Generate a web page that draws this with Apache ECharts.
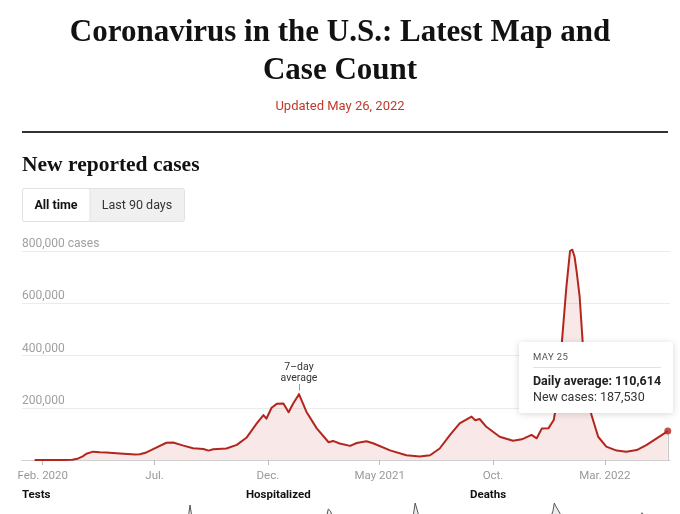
<!DOCTYPE html>
<html><head><meta charset="utf-8">
<script src="https://cdn.jsdelivr.net/npm/echarts@6/dist/echarts.min.js"></script>
<style>html,body{margin:0;padding:0;background:#fff;}#c{width:680px;height:514px;}</style>
</head><body><div id="c"></div>
<script>
// ---------- data ----------
const caseDates = ['2020-01-21','2020-03-01','2020-03-12','2020-03-20','2020-03-26','2020-03-31','2020-04-09','2020-04-18','2020-04-27','2020-05-15','2020-06-05','2020-06-11','2020-06-20','2020-07-04','2020-07-17','2020-07-26','2020-08-09','2020-08-22','2020-09-05','2020-09-12','2020-09-18','2020-10-06','2020-10-20','2020-11-02','2020-11-16','2020-11-25','2020-11-29','2020-12-06','2020-12-13','2020-12-22','2020-12-29','2021-01-04','2021-01-12','2021-01-22','2021-02-05','2021-02-21','2021-02-27','2021-03-08','2021-03-22','2021-03-31','2021-04-13','2021-04-22','2021-05-15','2021-06-06','2021-06-24','2021-07-08','2021-07-21','2021-08-04','2021-08-17','2021-09-02','2021-09-07','2021-09-13','2021-09-22','2021-10-10','2021-10-28','2021-11-09','2021-11-22','2021-11-29','2021-12-06','2021-12-15','2021-12-22','2021-12-24','2021-12-28','2021-12-31','2022-01-02','2022-01-08','2022-01-13','2022-01-16','2022-01-19','2022-01-22','2022-01-26','2022-01-30','2022-02-04','2022-02-07','2022-02-11','2022-02-20','2022-03-03','2022-03-17','2022-03-30','2022-04-13','2022-04-26','2022-05-10','2022-05-25'];
const caseAverages = [0,0,1000,6000,14000,24000,32000,30000,29000,25000,21000,22000,29000,48000,66000,67000,55000,45000,42000,36000,41000,44000,58000,85000,140000,172000,158000,200000,215000,216000,183000,215000,252000,185000,121000,68000,73000,63000,54000,65000,72000,64000,37000,18000,13000,18000,44000,96000,140000,166000,152000,157000,127000,89000,74000,79000,96000,83000,121000,122000,153000,185000,280000,380000,450000,660000,800000,805000,780000,720000,625000,455000,300000,230000,172000,89000,51000,36000,32000,38000,57000,83000,110614];

const xRange = ['2020-01-04','2022-05-28'];
const xTickDates = ['2020-02-01','2020-07-01','2020-12-01','2021-05-01','2021-10-01','2022-03-01'];
const xTickLabels = ['Feb. 2020','Jul.','Dec.','May 2021','Oct.','Mar. 2022'];
const yTickValues = [0,200000,400000,600000,800000];
const yTickLabels = ['','200,000','400,000','600,000','800,000 cases'];

const annotationDate = '2021-01-12';
const annotationText = '7\u2013day\naverage';

const tooltipDate = 'MAY 25';
const tooltipDailyAverage = 110614;
const tooltipNewCases = 187530;

const testsDates = ['2020-03-01','2020-04-15','2020-07-20','2020-09-10','2020-11-20','2021-01-10','2021-03-15','2021-06-20','2021-09-05','2021-12-01','2021-12-28','2022-01-03','2022-01-08','2022-01-13','2022-01-20','2022-02-05','2022-03-20','2022-05-25'];
const testsValues = [0,150000,800000,720000,1650000,1900000,1300000,700000,1800000,1600000,2100000,2500000,2900000,2550000,2200000,1500000,900000,1000000];
const hospDates = ['2020-03-15','2020-04-15','2020-06-15','2020-07-22','2020-09-20','2020-11-15','2020-12-20','2020-12-29','2021-01-08','2021-02-01','2021-03-15','2021-06-25','2021-09-01','2021-10-25','2021-12-15','2022-01-01','2022-01-13','2022-01-25','2022-02-10','2022-03-20','2022-05-25'];
const hospValues = [5000,58000,28000,59000,30000,70000,120000,144000,138000,95000,40000,16000,100000,46000,70000,110000,160000,135000,90000,24000,25000];
const deathsDates = ['2020-03-10','2020-04-18','2020-06-20','2020-08-05','2020-09-25','2020-11-15','2020-12-20','2021-01-01','2021-01-07','2021-01-11','2021-01-15','2021-02-01','2021-02-10','2021-03-15','2021-07-05','2021-09-20','2021-11-01','2021-12-20','2022-01-15','2022-01-25','2022-02-05','2022-03-10','2022-05-25'];
const deathsValues = [0,2200,650,1150,800,1150,2500,2950,3400,3280,3390,2800,2300,1400,230,2000,1200,1300,2000,2850,2500,1300,300];

// ---------- chart ----------
const ms = d => Date.parse(d);
const zip = (ds, vs) => ds.map((d, i) => [ms(d), vs[i]]);
const fmt = n => n.toLocaleString('en-US');
const labelByMs = {};
xTickDates.forEach((d, i) => { labelByMs[ms(d)] = xTickLabels[i]; });

const RED = '#b3261e';
const SANS = 'Roboto, "Liberation Sans", sans-serif';
const SERIF = '"Liberation Serif", "DejaVu Serif", serif';
const lastIdx = caseDates.length - 1;
const lastPoint = [ms(caseDates[lastIdx]), caseAverages[lastIdx]];

const chart = echarts.init(document.getElementById('c'), null, {renderer: 'canvas'});

const miniGrid = (left, top) => ({left: left, top: top, width: 200, height: 60, outerBoundsMode: 'none'});
const miniX = i => ({type: 'value', gridIndex: i, min: ms(xRange[0]), max: ms(xRange[1]), show: false});
const miniY = i => ({type: 'value', gridIndex: i, min: 0, max: 'dataMax', show: false});
const miniSeries = (i, data) => ({
  type: 'line', xAxisIndex: i, yAxisIndex: i, data: data, showSymbol: false, symbol: 'none',
  lineStyle: {color: '#555', width: 1}, areaStyle: {color: '#ececec', opacity: 1}, silent: true
});

chart.setOption({
  animation: false,
  graphic: [
    {type: 'text', x: 340, y: 33, style: {text: 'Coronavirus in the U.S.: Latest Map and', font: 'bold 31px ' + SERIF, fill: '#121212', align: 'center', verticalAlign: 'middle'}},
    {type: 'text', x: 340, y: 71, style: {text: 'Case Count', font: 'bold 31px ' + SERIF, fill: '#121212', align: 'center', verticalAlign: 'middle'}},
    {type: 'text', x: 340, y: 106.5, style: {text: 'Updated May 26, 2022', font: '13px ' + SANS, fill: '#c1392b', align: 'center', verticalAlign: 'middle'}},
    {type: 'rect', shape: {x: 22, y: 131, width: 646, height: 2}, style: {fill: '#333'}, silent: true},
    {type: 'text', x: 22, y: 165.5, style: {text: 'New reported cases', font: 'bold 21.5px ' + SERIF, fill: '#121212', verticalAlign: 'middle'}},
    {type: 'rect', shape: {x: 22.5, y: 188.5, width: 162, height: 33, r: 2}, style: {fill: '#f0f0f0', stroke: '#e2e2e2', lineWidth: 1}},
    {type: 'rect', shape: {x: 22.5, y: 188.5, width: 67.5, height: 33, r: 2}, style: {fill: '#ffffff', stroke: '#e2e2e2', lineWidth: 1}},
    {type: 'text', x: 56, y: 206, style: {text: 'All time', font: 'bold 12.5px ' + SANS, fill: '#121212', align: 'center', verticalAlign: 'middle'}},
    {type: 'text', x: 137, y: 206, style: {text: 'Last 90 days', font: '12.5px ' + SANS, fill: '#333', align: 'center', verticalAlign: 'middle'}},
    {type: 'text', x: 22, y: 495.5, style: {text: 'Tests', font: 'bold 11.5px ' + SANS, fill: '#121212', verticalAlign: 'middle'}},
    {type: 'text', x: 246, y: 495.5, style: {text: 'Hospitalized', font: 'bold 11.5px ' + SANS, fill: '#121212', verticalAlign: 'middle'}},
    {type: 'text', x: 470, y: 495.5, style: {text: 'Deaths', font: 'bold 11.5px ' + SANS, fill: '#121212', verticalAlign: 'middle'}}
  ],
  tooltip: {
    trigger: 'item', triggerOn: 'none', alwaysShowContent: true, transitionDuration: 0,
    position: function () { return [519, 342]; },
    padding: 0, borderWidth: 0, backgroundColor: '#fff',
    extraCssText: 'box-shadow:0 1px 7px rgba(0,0,0,0.16);border-radius:2px;',
    formatter: function () {
      return '<div style="width:128px;padding:8.5px 12px 8.5px 14px;font-family:Roboto,sans-serif;">' +
        '<div style="font-size:9.5px;line-height:12px;color:#555;letter-spacing:0.4px;padding-bottom:4px;border-bottom:1px solid #e2e2e2;">' + tooltipDate + '</div>' +
        '<div style="font-size:12.5px;line-height:16px;font-weight:bold;color:#222;margin-top:5px;white-space:nowrap;">Daily average: ' + fmt(tooltipDailyAverage) + '</div>' +
        '<div style="font-size:12.5px;line-height:16px;color:#333;white-space:nowrap;">New cases: ' + fmt(tooltipNewCases) + '</div>' +
        '</div>';
    }
  },
  grid: [
    {left: 22, right: 10, top: 251, bottom: 54, outerBoundsMode: 'none'},
    miniGrid(22, 505), miniGrid(246, 503), miniGrid(470, 503)
  ],
  xAxis: [
    {type: 'value', min: ms(xRange[0]), max: ms(xRange[1]),
     axisLine: {show: true, lineStyle: {color: '#cfcfcf', width: 1}},
     axisTick: {show: true, customValues: xTickDates.map(ms), length: 5, lineStyle: {color: '#bbb'}},
     axisLabel: {show: true, customValues: xTickDates.map(ms), formatter: v => labelByMs[v] || '',
                 color: '#999', fontFamily: SANS, fontSize: 11.5, margin: 10},
     splitLine: {show: false}},
    miniX(1), miniX(2), miniX(3)
  ],
  yAxis: [
    {type: 'value', min: 0, max: 800000, interval: 200000,
     axisLine: {show: false}, axisTick: {show: false},
     axisLabel: {inside: true, align: 'left', verticalAlign: 'bottom', margin: 0, lineHeight: 14, padding: [0, 0, 0, 0],
                 color: '#a0a0a0', fontFamily: SANS, fontSize: 12,
                 formatter: v => yTickLabels[yTickValues.indexOf(v)] || ''},
     splitLine: {show: true, lineStyle: {color: '#ebebeb', width: 1}}},
    miniY(1), miniY(2), miniY(3)
  ],
  series: [
    {type: 'line', name: 'Daily average', data: zip(caseDates, caseAverages), showSymbol: false, symbol: 'none',
     clip: false, silent: true,
     lineStyle: {color: RED, width: 2, join: 'round'},
     areaStyle: {color: 'rgba(200,40,40,0.15)'},
     markLine: {silent: true, symbol: ['none', 'none'], animation: false,
       lineStyle: {color: '#999', width: 1, type: 'solid'},
       label: {show: true, position: 'end', formatter: annotationText, color: '#333', fontFamily: SANS, fontSize: 10.5, lineHeight: 11, distance: 0},
       data: [[{coord: [ms(annotationDate), 266000]}, {coord: [ms(annotationDate), 291000]}]]}
    },
    {type: 'scatter', name: 'Latest', data: [lastPoint], symbol: 'circle', symbolSize: 7, z: 5,
     itemStyle: {color: RED},
     markLine: {silent: true, symbol: ['none', 'none'], animation: false,
       lineStyle: {color: '#c8c8c8', width: 1, type: 'solid'}, label: {show: false},
       data: [[{coord: [lastPoint[0], 0]}, {coord: [lastPoint[0], lastPoint[1]]}]]}
    },
    miniSeries(1, zip(testsDates, testsValues)),
    miniSeries(2, zip(hospDates, hospValues)),
    miniSeries(3, zip(deathsDates, deathsValues))
  ]
});
chart.dispatchAction({type: 'showTip', seriesIndex: 1, dataIndex: 0});
</script>
</body></html>
